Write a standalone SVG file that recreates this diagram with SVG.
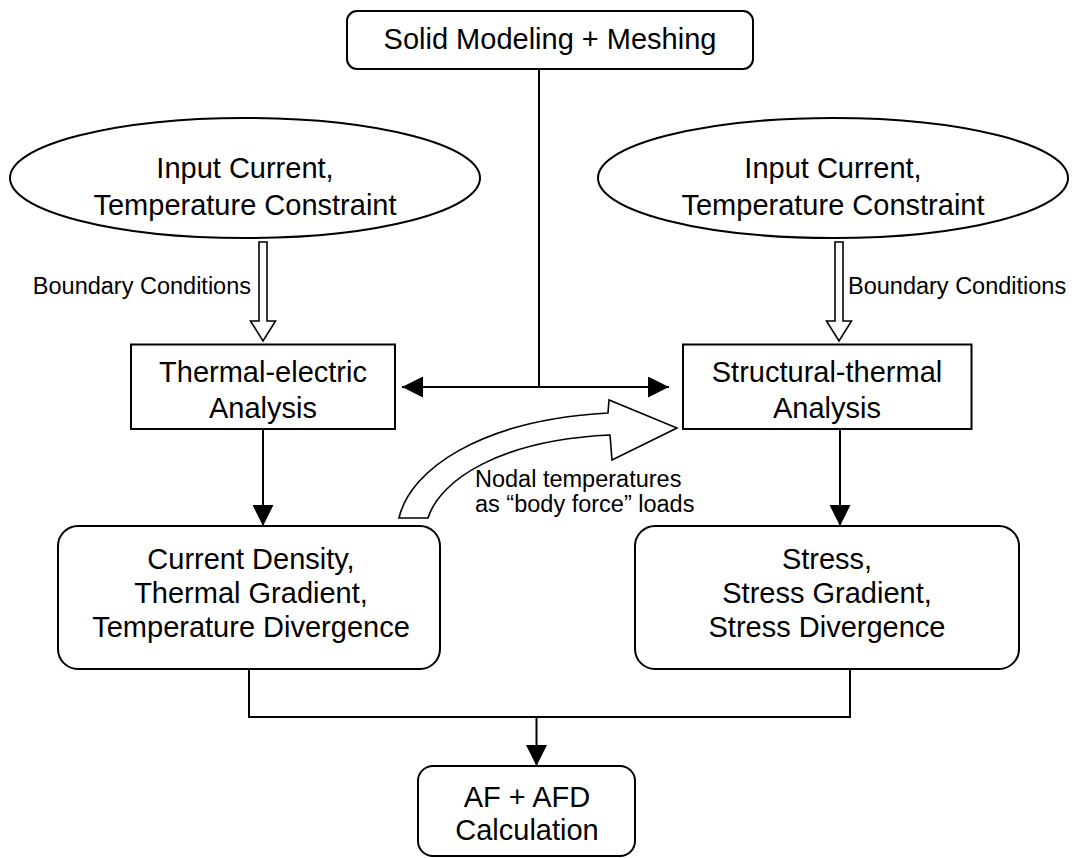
<svg xmlns="http://www.w3.org/2000/svg" width="1074" height="858" viewBox="0 0 1074 858">
  <style>
    .box { fill: #ffffff; stroke: #000000; stroke-width: 2; }
    .hollow { fill: #ffffff; stroke: #000000; stroke-width: 1.6; stroke-linejoin: miter; }
    .wire { fill: none; stroke: #000000; stroke-width: 2; }
    .t { font-family: "Liberation Sans", Arial, sans-serif; font-size: 29px; fill: #000000; text-anchor: middle; }
    .s { font-family: "Liberation Sans", Arial, sans-serif; font-size: 23.5px; fill: #000000; }
  </style>
  <defs>
    <marker id="head" markerUnits="userSpaceOnUse" markerWidth="21" markerHeight="21" refX="21" refY="10.5" orient="auto-start-reverse">
      <path d="M0,0 L21,10.5 L0,21 z" fill="#000000"/>
    </marker>
  </defs>

  <!-- connectors -->
  <g id="connectors">
    <path class="wire" d="M539,69 V387"/>
    <path class="wire" d="M539,387 H402" marker-end="url(#head)"/>
    <path class="wire" d="M539,387 H669" marker-end="url(#head)"/>
    <path class="wire" d="M263,429 V526" marker-end="url(#head)"/>
    <path class="wire" d="M840,429 V526" marker-end="url(#head)"/>
    <path class="wire" d="M249,669 V717 H850 V669"/>
    <path class="wire" d="M536.5,717 V766" marker-end="url(#head)"/>
    <!-- boundary-condition block arrows -->
    <polygon class="hollow" points="259,242 267,242 267,321 275.5,321 263,341 250.5,321 259,321"/>
    <polygon class="hollow" points="835,242 843,242 843,321 851.5,321 839,341 826.5,321 835,321"/>
    <!-- curved block arrow carrying nodal temperatures -->
    <path class="hollow" d="M399,518 C410,470 480,420 608,413 L609,400 L677,428 L612,460 L610,435 C500,440 440,480 428,518 Z"/>
    <text class="s" x="475" y="487">Nodal temperatures</text>
    <text class="s" x="475" y="512">as “body force” loads</text>
    <text class="s" x="251" y="294" text-anchor="end">Boundary Conditions</text>
    <text class="s" x="848" y="294">Boundary Conditions</text>
  </g>

  <g id="solid-modeling">
    <rect class="box" x="347" y="11" width="406" height="58" rx="10" ry="10"/>
    <text class="t" x="550" y="49">Solid Modeling + Meshing</text>
  </g>

  <g id="input-left">
    <ellipse class="box" cx="245" cy="178" rx="235" ry="60"/>
    <text class="t" x="245" y="178">Input Current,</text>
    <text class="t" x="245" y="215">Temperature Constraint</text>
  </g>

  <g id="input-right">
    <ellipse class="box" cx="833" cy="178" rx="235" ry="60"/>
    <text class="t" x="833" y="178">Input Current,</text>
    <text class="t" x="833" y="215">Temperature Constraint</text>
  </g>

  <g id="thermal-electric">
    <rect class="box" x="131" y="344.5" width="264" height="84.5"/>
    <text class="t" x="263" y="382">Thermal-electric</text>
    <text class="t" x="263" y="418">Analysis</text>
  </g>

  <g id="structural-thermal">
    <rect class="box" x="683" y="344.5" width="288.5" height="84.5"/>
    <text class="t" x="827" y="382">Structural-thermal</text>
    <text class="t" x="827" y="418">Analysis</text>
  </g>

  <g id="thermal-results">
    <rect class="box" x="58" y="526" width="382" height="143" rx="20" ry="20"/>
    <text class="t" x="251" y="569">Current Density,</text>
    <text class="t" x="251" y="603">Thermal Gradient,</text>
    <text class="t" x="251" y="637">Temperature Divergence</text>
  </g>

  <g id="stress-results">
    <rect class="box" x="635" y="526" width="384" height="143" rx="20" ry="20"/>
    <text class="t" x="827" y="569">Stress,</text>
    <text class="t" x="827" y="603">Stress Gradient,</text>
    <text class="t" x="827" y="637">Stress Divergence</text>
  </g>

  <g id="af-afd">
    <rect class="box" x="418" y="766" width="217" height="90" rx="15" ry="15"/>
    <text class="t" x="527" y="807">AF + AFD</text>
    <text class="t" x="527" y="840">Calculation</text>
  </g>
</svg>
